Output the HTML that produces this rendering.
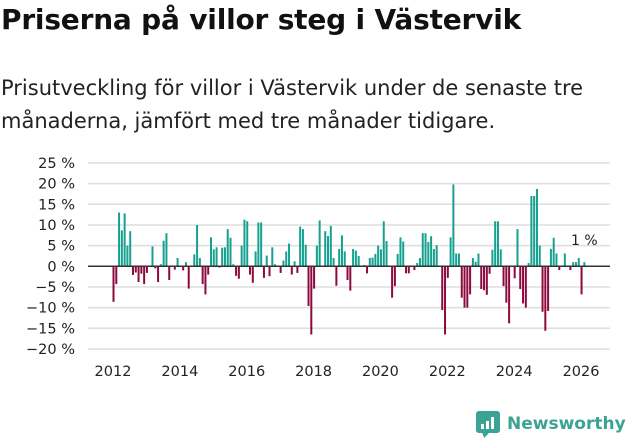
<!DOCTYPE html>
<html><head><meta charset="utf-8"><style>
body{margin:0;width:631px;height:439px;background:#fff;font-family:"DejaVu Sans","Liberation Sans",sans-serif;overflow:hidden;position:relative}
#title{position:absolute;left:1px;top:3px;font-size:28px;font-weight:bold;color:#111;margin:0;white-space:nowrap;letter-spacing:-0.2px}
#sub{position:absolute;left:1px;top:72px;font-size:21px;line-height:33px;color:#222;width:630px;white-space:nowrap}
svg{position:absolute;left:0;top:0}
</style></head><body>
<h1 id="title">Priserna på villor steg i Västervik</h1>
<div id="sub">Prisutveckling för villor i Västervik under de senaste tre<br>månaderna, jämfört med tre månader tidigare.</div>
<svg id="chart" width="631" height="439" font-family="DejaVu Sans, Liberation Sans, sans-serif">
<g id="grid"></g><g id="bars"></g><g id="axes"></g>
<text x="571" y="245" font-size="14" fill="#222">1 %</text>
<g>
<rect x="476" y="411" width="24" height="22" rx="3" fill="#3aa394"/>
<polygon points="482,432 490,432 484,438" fill="#3aa394"/>
<rect x="481" y="424" width="3" height="5" fill="#fff"/><rect x="486" y="421" width="3" height="8" fill="#fff"/><rect x="491" y="417" width="3" height="12" fill="#fff"/>
<text x="507" y="429" font-size="17" font-weight="bold" fill="#3aa394">Newsworthy</text>
</g>
</svg>
<script>
const values=[-8.6,-4.3,13,8.7,12.8,5,8.5,-2.1,-1.5,-3.8,-1.8,-4.3,-1.6,0,4.8,-0.5,-3.8,0.5,6.2,8,-3.3,0,-0.8,2,0,-1,1,-5.4,0,2.9,10,2,-4.3,-6.8,-2,7,4.1,4.6,-0.3,4.5,4.6,9,6.9,0.5,-2.3,-3,5,11.3,10.9,-2,-4,3.6,10.6,10.6,-2.8,2.6,-2.4,4.6,0.5,0,-1.6,1.4,3.6,5.5,-2,1.2,-1.6,9.6,9,5.2,-9.6,-16.5,-5.4,5,11.1,0,8.5,7.3,9.8,2,-4.7,4.2,7.5,3.6,-3.3,-5.9,4.2,3.8,2.5,0,0.3,-1.7,2,2.1,3,5,4.1,10.9,6.1,0,-7.6,-4.8,3,7,6,-1.7,-1.7,0,-0.9,0.8,2,8,8,5.9,7.3,4.2,5.1,0,-10.6,-16.5,-2.8,7,19.8,3.1,3.1,-7.6,-10,-10,-6.8,2,1.1,3.1,-5.5,-5.8,-6.9,-1.8,4,10.9,10.9,4.1,-4.8,-8.8,-13.8,0,-2.9,9,-5.5,-9,-10,0.8,17,17,18.7,5,-11,-15.6,-10.8,4.2,6.9,3.1,-0.9,0,3.1,0,-0.9,1,1,2,-6.8,1];
const yTicks=[25,20,15,10,5,0,-5,-10,-15,-20];
const xTicks=[2012,2014,2016,2018,2020,2022,2024,2026];
const NS="http://www.w3.org/2000/svg";
const y=v=>266.3-v*4.133;
const xm=i=>113.5+i*2.786;
const xy=yr=>113+(yr-2012)*33.43;
const grid=document.getElementById('grid'),bars=document.getElementById('bars'),axes=document.getElementById('axes');
yTicks.forEach(t=>{
 const l=document.createElementNS(NS,'line');
 l.setAttribute('x1',88);l.setAttribute('x2',610);l.setAttribute('y1',y(t));l.setAttribute('y2',y(t));
 l.setAttribute('stroke',t===0?'#333':'#dedede');l.setAttribute('stroke-width',1.5);
 
 
 (t===0?axes:grid).appendChild(l);
 const tx=document.createElementNS(NS,'text');
 tx.setAttribute('x',75);tx.setAttribute('y',y(t)+5);tx.setAttribute('text-anchor','end');tx.setAttribute('font-size','14.5');tx.setAttribute('fill','#222');
 tx.textContent=(t<0?'\u2212'+(-t):t)+' %';
 
 
 axes.appendChild(tx);
});
xTicks.forEach(t=>{
 const tx=document.createElementNS(NS,'text');
 tx.setAttribute('x',xy(t));tx.setAttribute('y',376);tx.setAttribute('text-anchor','middle');tx.setAttribute('font-size','14.5');tx.setAttribute('fill','#222');
 tx.textContent=t;
 
 
 axes.appendChild(tx);
});
values.forEach((v,i)=>{
 if(v===0)return;
 const r=document.createElementNS(NS,'rect');
 r.setAttribute('x',xm(i)-1);r.setAttribute('width',2);
 r.setAttribute('y',Math.min(y(v),y(0)));r.setAttribute('height',Math.abs(y(v)-y(0)));
 r.setAttribute('fill',v>0?'#16a090':'#8c0a3d');
 
 
 bars.appendChild(r);
});
</script>
</body></html>
